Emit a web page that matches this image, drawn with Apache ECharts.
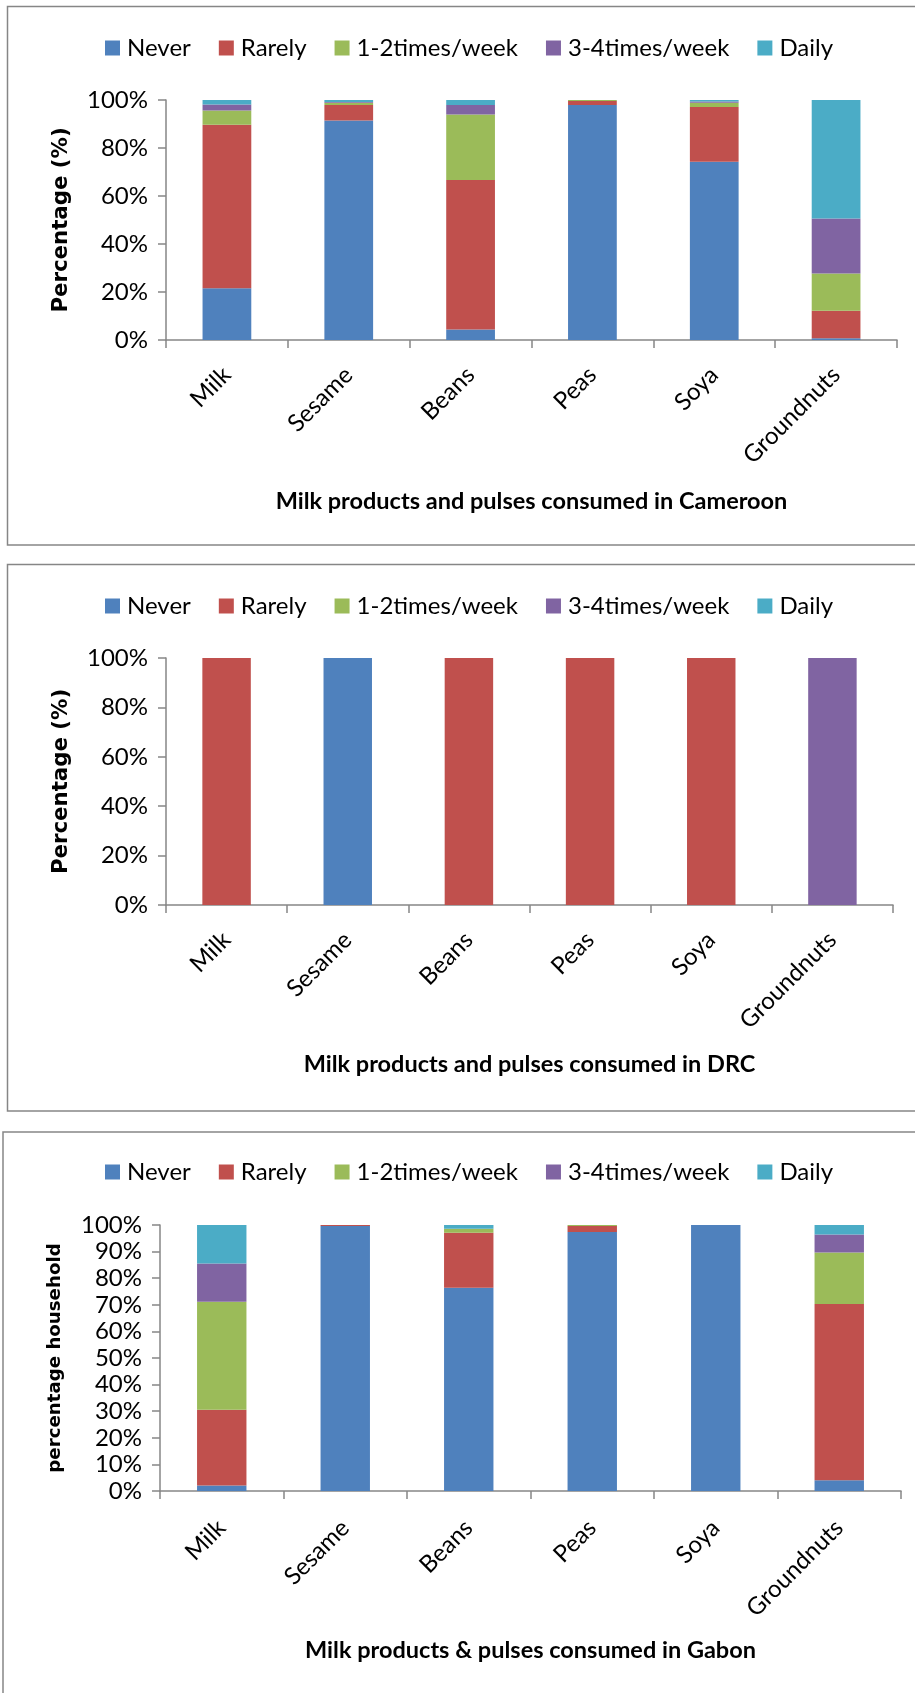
<!DOCTYPE html>
<html>
<head>
<meta charset="utf-8">
<title>Milk products and pulses consumption</title>
<script src="https://cdn.jsdelivr.net/npm/echarts@6/dist/echarts.min.js"></script>
<style>
  html, body { margin: 0; padding: 0; background: #fff; }
  #chart { width: 915px; height: 1693px; }
</style>
</head>
<body>
<div id="chart"></div>
<script>
// Food items on the category axis
const categories = ['Milk', 'Sesame', 'Beans', 'Peas', 'Soya', 'Groundnuts'];
// Consumption frequency classes (stack order, bottom to top)
const frequencies = ['Never', 'Rarely', '1-2times/week', '3-4times/week', 'Daily'];

// Cameroon (% of respondents)
const cmNever  = [21.6, 91.5, 4.4, 97.9, 74.3, 0.7];
const cmRarely = [68.1, 6.4, 62.3, 1.7, 22.8, 11.5];
const cmWeek12 = [5.9, 1.0, 27.3, 0.4, 1.8, 15.5];
const cmWeek34 = [2.5, 0.3, 3.9, 0, 0.5, 22.9];
const cmDaily  = [1.9, 0.8, 2.1, 0, 0.6, 49.4];

// DRC (% of respondents)
const drcNever  = [0, 100, 0, 0, 0, 0];
const drcRarely = [100, 0, 100, 100, 100, 0];
const drcWeek12 = [0, 0, 0, 0, 0, 0];
const drcWeek34 = [0, 0, 0, 0, 0, 100];
const drcDaily  = [0, 0, 0, 0, 0, 0];

// Gabon (% of households)
const gaNever  = [2.1, 99.6, 76.4, 97.4, 100, 4.0];
const gaRarely = [28.4, 0.4, 20.7, 2.2, 0, 66.3];
const gaWeek12 = [40.6, 0, 1.5, 0.4, 0, 19.4];
const gaWeek34 = [14.4, 0, 0, 0, 0, 6.7];
const gaDaily  = [14.5, 0, 1.4, 0, 0, 3.6];

const xTitles = [
  'Milk products and pulses consumed in Cameroon',
  'Milk products and pulses consumed in DRC',
  'Milk products & pulses consumed in Gabon'
];
const yTitles = ['Percentage (%)', 'Percentage (%)', 'percentage household'];

const colors = ['#4F81BD', '#C0504D', '#9BBB59', '#8064A2', '#4BACC6'];
const AXIS_GREY = '#868686';
const FONT = 'Lato, "Open Sans", sans-serif';

const panels = [
  { stacks: [cmNever, cmRarely, cmWeek12, cmWeek34, cmDaily],
    grid: { left: 166, right: 18, top: 100, height: 240 },
    legendTop: 31, interval: 20, yNameGap: 94, yNameSize: 21.3, labelMargin: 31, nameGap: 149 },
  { stacks: [drcNever, drcRarely, drcWeek12, drcWeek34, drcDaily],
    grid: { left: 166, right: 22, top: 658, height: 247 },
    legendTop: 589, interval: 20, yNameGap: 94, yNameSize: 21.3, labelMargin: 31, nameGap: 147 },
  { stacks: [gaNever, gaRarely, gaWeek12, gaWeek34, gaDaily],
    grid: { left: 160, right: 14, top: 1225, height: 266 },
    legendTop: 1155, interval: 10, yNameGap: 96, yNameSize: 18.2, labelMargin: 33, nameGap: 147 }
];

const grid = [], xAxis = [], yAxis = [], legend = [], series = [];

panels.forEach((p, i) => {
  grid.push(Object.assign({ containLabel: false }, p.grid));

  legend.push({
    data: frequencies,
    left: 100,
    top: p.legendTop,
    itemWidth: 15,
    itemHeight: 15,
    itemGap: 28,
    icon: 'rect',
    selectedMode: false,
    textStyle: { fontFamily: FONT, fontSize: 24, color: '#000', padding: [0, 0, 0, 2] }
  });

  xAxis.push({
    type: 'category',
    gridIndex: i,
    data: categories,
    boundaryGap: true,
    axisLine: { show: true, lineStyle: { color: AXIS_GREY, width: 1.5 } },
    axisTick: { show: true, length: 8, alignWithLabel: false, lineStyle: { color: AXIS_GREY, width: 1.5 } },
    axisLabel: { rotate: 45, margin: p.labelMargin, fontFamily: FONT, fontSize: 24, color: '#000', interval: 0 },
    name: xTitles[i],
    nameLocation: 'middle',
    nameGap: p.nameGap,
    nameTextStyle: { fontFamily: FONT, fontWeight: 'bold', fontSize: 23.5, color: '#000' }
  });

  yAxis.push({
    type: 'value',
    gridIndex: i,
    min: 0,
    max: 100,
    interval: p.interval,
    splitLine: { show: false },
    axisLine: { show: true, lineStyle: { color: AXIS_GREY, width: 1.5 } },
    axisTick: { show: true, length: 8, lineStyle: { color: AXIS_GREY, width: 1.5 } },
    axisLabel: { formatter: '{value}%', margin: 18, fontFamily: FONT, fontSize: 24, color: '#000' },
    name: yTitles[i],
    nameLocation: 'middle',
    nameRotate: 90,
    nameGap: p.yNameGap,
    nameTextStyle: { fontFamily: '"DejaVu Sans", sans-serif', fontWeight: 'bold', fontSize: p.yNameSize, color: '#000' }
  });

  frequencies.forEach((f, k) => {
    series.push({
      type: 'bar',
      name: f,
      stack: 'panel' + i,
      xAxisIndex: i,
      yAxisIndex: i,
      barWidth: '40%',
      data: p.stacks[k],
      itemStyle: { color: colors[k] }
    });
  });
});

// Frames around each panel
const frame = (x, y, w, h) => ({
  type: 'rect',
  shape: { x: x, y: y, width: w, height: h },
  style: { fill: 'none', stroke: AXIS_GREY, lineWidth: 1.5 },
  silent: true
});

const chart = echarts.init(document.getElementById('chart'), null, { renderer: 'canvas' });
chart.setOption({
  animation: false,
  backgroundColor: '#fff',
  color: colors,
  grid: grid,
  legend: legend,
  xAxis: xAxis,
  yAxis: yAxis,
  series: series,
  graphic: [
    frame(7.5, 6.5, 1000, 538.5),
    frame(7.5, 564.5, 1000, 546.5),
    frame(3, 1132, 1000, 700)
  ]
});
</script>
</body>
</html>
